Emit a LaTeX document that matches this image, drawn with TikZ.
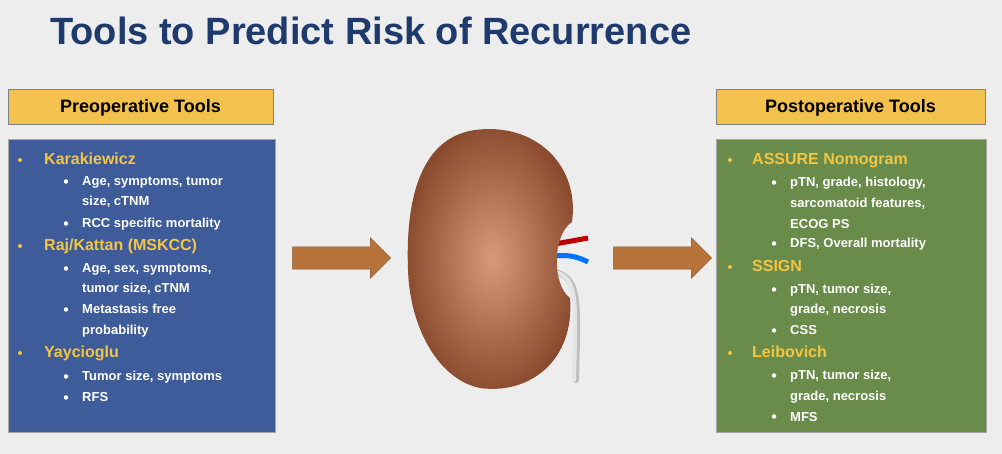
\documentclass[tikz,border=0pt]{standalone}
\usepackage{fontspec}
\setmainfont{Liberation Sans}
\usetikzlibrary{shapes.arrows}
\definecolor{bgGrey}{HTML}{EDEDED}
\definecolor{titleBlue}{HTML}{1F3B6E}
\definecolor{headYellow}{HTML}{F2C14E}
\definecolor{boxBlue}{HTML}{3E5C9A}
\definecolor{boxGreen}{HTML}{6A8C4A}
\definecolor{txtYellow}{HTML}{F4C542}
\definecolor{arrowBrown}{HTML}{B8733A}
\definecolor{kidneyDark}{HTML}{8A4A2E}
\definecolor{kidneyLight}{HTML}{D79A78}
\tikzset{
  headbox/.style={draw=black!50, line width=1pt, fill=headYellow},
  headtext/.style={font=\bfseries\fontsize{18}{20}\selectfont, text=black},
  heading/.style={anchor=base west, font=\bfseries\fontsize{16}{18}\selectfont, text=txtYellow, inner sep=0pt},
  item/.style={anchor=base west, font=\bfseries\fontsize{13}{15}\selectfont, text=white, inner sep=0pt},
  dot/.style={circle, fill=#1, inner sep=0pt, minimum size=4pt},
  bigarrow/.style={single arrow, fill=arrowBrown, draw=arrowBrown!70!black, minimum height=98pt, single arrow head extend=9pt, inner xsep=0pt, inner ysep=11pt}
}
\begin{document}
\begin{tikzpicture}[x=1pt, y=-1pt]
\fill[bgGrey] (0,0) rectangle (1002,454);
\useasboundingbox (0,0) rectangle (1002,454);

\node[anchor=base west, font=\bfseries\fontsize{38}{40}\selectfont, text=titleBlue, inner sep=0pt] (title) at (50,45) {Tools to Predict Risk of Recurrence};

% headers
\draw[headbox] (8,90) rectangle (273,125);
\node[headtext] (prehead) at (140.5,107.5) {Preoperative Tools};
\draw[headbox] (716,90) rectangle (985,125);
\node[headtext] (posthead) at (850.5,107.5) {Postoperative Tools};

% boxes
\draw[draw=black!35, line width=1pt, fill=boxBlue] (8,140) rectangle (275,432);
\draw[draw=black!35, line width=1pt, fill=boxGreen] (716,140) rectangle (986,432);

% left text
\foreach \y/\t [count=\i] in {165/Karakiewicz, 251/{Raj/Kattan (MSKCC)}, 358/Yaycioglu}{
  \node[dot=txtYellow] (lh\i dot) at (20,\y-5) {};
  \node[heading] (lh\i) at (44,\y) {\t};
}
\foreach \y/\t/\b [count=\i] in {186/{Age, symptoms, tumor}/1, 206/{size, cTNM}/0, 228/{RCC specific mortality}/1,
  273/{Age, sex, symptoms,}/1, 293/{tumor size, cTNM}/0, 314/{Metastasis free}/1, 335/probability/0,
  381/{Tumor size, symptoms}/1, 402/RFS/1}{
  \ifnum\b=1 \node[dot=white, minimum size=4.5pt] (ld\i) at (66,\y-4.5) {};\fi
  \node[item] (li\i) at (82,\y) {\t};
}

% right text
\foreach \y/\t [count=\i] in {165/ASSURE Nomogram, 272/SSIGN, 358/Leibovich}{
  \node[dot=txtYellow] (rh\i dot) at (730,\y-5) {};
  \node[heading] (rh\i) at (752,\y) {\t};
}
\foreach \y/\t/\b [count=\i] in {187/{pTN, grade, histology,}/1, 208/{sarcomatoid features,}/0, 229/{ECOG PS}/0,
  248/{DFS, Overall mortality}/1, 294/{pTN, tumor size,}/1, 314/{grade, necrosis}/0, 335/CSS/1,
  380/{pTN, tumor size,}/1, 400/{grade, necrosis}/0, 421/MFS/1}{
  \ifnum\b=1 \node[dot=white, minimum size=4.5pt] (rd\i) at (774,\y-4.5) {};\fi
  \node[item] (ri\i) at (790,\y) {\t};
}

% arrows
\node[bigarrow] (leftarrow) at (336,258) {};
\node[bigarrow] (rightarrow) at (657,258) {};

% kidney
\draw[line width=6pt, draw=black!25, line cap=round] (556,272) .. controls (580,280) and (578,300) .. (576,380);
\draw[line width=4pt, draw=white!90!black, line cap=round] (556,272) .. controls (578,280) and (576,300) .. (574,380);
\draw[line width=5pt, draw=red!75!black] (555,244) -- (588,238);
\draw[line width=5pt, draw=blue!55!cyan] (555,256) .. controls (570,254) and (580,258) .. (588,262);
\shade[inner color=kidneyLight, outer color=kidneyDark]
  (475,130) .. controls (535,122) and (580,165) .. (572,222)
  .. controls (552,235) and (552,285) .. (570,298)
  .. controls (575,360) and (530,395) .. (480,388)
  .. controls (440,380) and (410,330) .. (408,270)
  .. controls (405,190) and (425,137) .. (475,130) -- cycle;
\end{tikzpicture}
\end{document}
